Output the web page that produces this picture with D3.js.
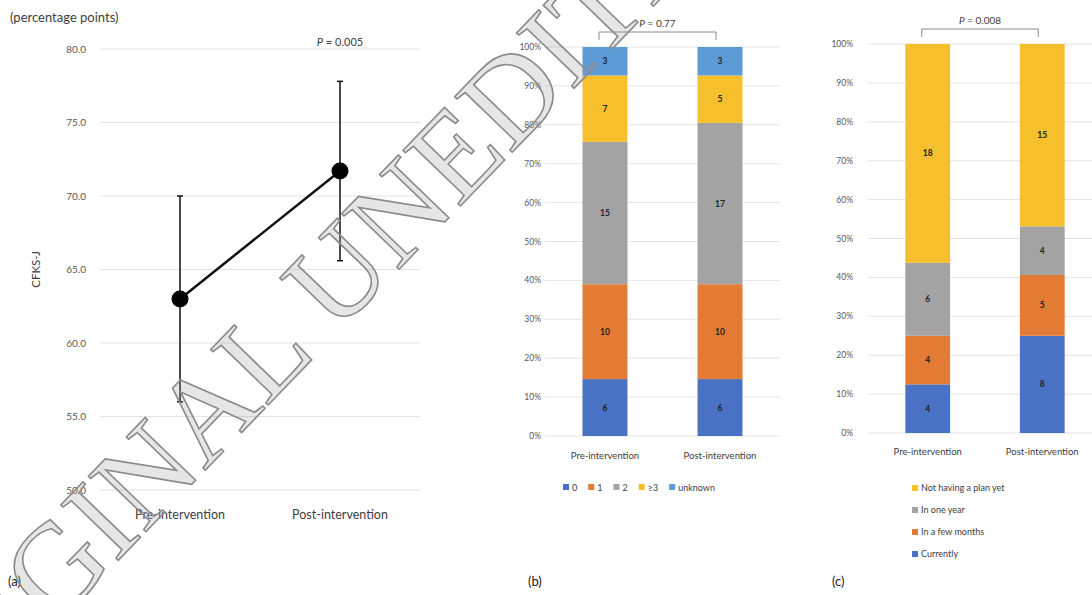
<!DOCTYPE html>
<html>
<head>
<meta charset="utf-8">
<script src="https://cdn.jsdelivr.net/npm/d3@7"></script>
<style>
  body { margin: 0; background: #fff; }
  svg { font-family: Lato, "Open Sans", sans-serif; display: block; }
</style>
</head>
<body>
<div id="chart"></div>
<script>
// datos
const groups = ["Pre-intervention", "Post-intervention"];

// (a) media y desviación de CFKS-J
const meanA = [63.0, 71.7];
const sdA = [7.0, 6.1];
const ticksA = [50, 55, 60, 65, 70, 75, 80];

// (b) categorías y conteos
const catsB = ["0", "1", "2", "≥3", "unknown"];
const preB = [6, 10, 15, 7, 3];
const postB = [6, 10, 17, 5, 3];

// (c) categorías y conteos
const catsC = ["Currently", "In a few months", "In one year", "Not having a plan yet"];
const preC = [4, 4, 6, 18];
const postC = [8, 5, 4, 15];

const pctTicks = [0, 0.1, 0.2, 0.3, 0.4, 0.5, 0.6, 0.7, 0.8, 0.9, 1];

const colB = ["#4a72c4", "#e47b34", "#a3a3a3", "#f6c02c", "#5c9bd6"];
const colC = ["#4a72c4", "#e47b34", "#a3a3a3", "#f6c02c"];

const W = 1092, H = 595;
const svg = d3.select("#chart").append("svg")
  .attr("width", W).attr("height", H);

const grid = "#e3e3e3", tickCol = "#595959";

// ---------- panel (a) ----------
const ya = d3.scaleLinear().domain([50, 80]).range([490, 49]);
const xa = d3.scalePoint().domain(groups).range([100, 420]).padding(0.5);

const ga = svg.append("g");
ga.selectAll(".grid").data(ticksA).enter().append("line")
  .attr("x1", 100).attr("x2", 420)
  .attr("y1", d => ya(d)).attr("y2", d => ya(d))
  .attr("stroke", grid).attr("stroke-width", 1);

ga.selectAll(".tick").data(ticksA).enter().append("text")
  .attr("x", 86).attr("y", d => ya(d) + 3.5)
  .attr("text-anchor", "end").attr("fill", tickCol)
  .style("font-size", "10px")
  .text(d => d.toFixed(1));

ga.selectAll(".cat").data(groups).enter().append("text")
  .attr("x", d => xa(d)).attr("y", 519)
  .attr("text-anchor", "middle").attr("fill", "#404040")
  .style("font-size", "12.5px")
  .text(d => d);

// barras de error
groups.forEach((g, i) => {
  const x = xa(g);
  ga.append("line")
    .attr("x1", x).attr("x2", x)
    .attr("y1", ya(meanA[i] - sdA[i])).attr("y2", ya(meanA[i] + sdA[i]))
    .attr("stroke", "#111").attr("stroke-width", 1.5);
  [meanA[i] - sdA[i], meanA[i] + sdA[i]].forEach(v => {
    ga.append("line")
      .attr("x1", x - 3).attr("x2", x + 3)
      .attr("y1", ya(v)).attr("y2", ya(v))
      .attr("stroke", "#111").attr("stroke-width", 1.5);
  });
});

ga.append("path")
  .datum(groups.map((g, i) => [xa(g), ya(meanA[i])]))
  .attr("d", d3.line())
  .attr("fill", "none").attr("stroke", "#111").attr("stroke-width", 2.5);

ga.selectAll(".pt").data(groups).enter().append("circle")
  .attr("cx", d => xa(d)).attr("cy", (d, i) => ya(meanA[i]))
  .attr("r", 8.5).attr("fill", "#000");

ga.append("text").attr("x", 10).attr("y", 22)
  .attr("fill", "#404040").style("font-size", "13px")
  .text("(percentage points)");

ga.append("text")
  .attr("transform", `translate(40,${ya(65)}) rotate(-90)`)
  .attr("text-anchor", "middle").attr("fill", "#404040")
  .style("font-size", "11.5px")
  .text("CFKS-J");

const pa = ga.append("text").attr("x", xa(groups[1])).attr("y", 46)
  .attr("text-anchor", "middle").attr("fill", "#404040")
  .style("font-size", "11px");
pa.append("tspan").style("font-style", "italic").text("P");
pa.append("tspan").text(" = 0.005");

// ---------- paneles apilados ----------
function stackedPanel(opts) {
  const { cats, pre, post, colors, x0, x1, yTop, yBot, labelX } = opts;
  const g = svg.append("g");
  const y = d3.scaleLinear().domain([0, 1]).range([yBot, yTop]);
  const x = d3.scaleBand().domain(groups).range([x0, x1])
    .paddingInner(0.609).paddingOuter(0.326);

  g.selectAll(".grid").data(pctTicks).enter().append("line")
    .attr("x1", x0).attr("x2", x1)
    .attr("y1", d => y(d)).attr("y2", d => y(d))
    .attr("stroke", grid).attr("stroke-width", 1);

  g.selectAll(".tick").data(pctTicks).enter().append("text")
    .attr("x", labelX).attr("y", d => y(d) + 3)
    .attr("text-anchor", "end").attr("fill", tickCol)
    .style("font-size", "8.5px")
    .text(d3.format(".0%"));

  const rows = groups.map((gr, gi) => {
    const vals = gi === 0 ? pre : post;
    const o = { group: gr };
    cats.forEach((c, ci) => o[c] = vals[ci]);
    return o;
  });
  const series = d3.stack().keys(cats).offset(d3.stackOffsetExpand)(rows);

  const layer = g.selectAll(".layer").data(series).enter().append("g")
    .attr("fill", (d, i) => colors[i]);

  layer.selectAll("rect").data(d => d).enter().append("rect")
    .attr("x", d => x(d.data.group))
    .attr("width", x.bandwidth())
    .attr("y", d => y(d[1]))
    .attr("height", d => y(d[0]) - y(d[1]));

  series.forEach(s => {
    s.forEach(d => {
      g.append("text")
        .attr("x", x(d.data.group) + x.bandwidth() / 2)
        .attr("y", (y(d[0]) + y(d[1])) / 2 + 3)
        .attr("text-anchor", "middle")
        .attr("fill", "#222")
        .style("font-size", "8.5px").style("font-weight", "bold")
        .text(d.data[s.key]);
    });
  });

  g.selectAll(".cat").data(groups).enter().append("text")
    .attr("x", d => x(d) + x.bandwidth() / 2).attr("y", opts.catY)
    .attr("text-anchor", "middle").attr("fill", "#404040")
    .style("font-size", "9.5px")
    .text(d => d);

  // corchete y valor P
  const bx0 = x(groups[0]) + x.bandwidth() / 2 - 6;
  const bx1 = x(groups[1]) + x.bandwidth() / 2 - 4;
  const by = opts.bracketY;
  g.append("path")
    .attr("d", `M${bx0},${by + 8}V${by}H${bx1}V${by + 8}`)
    .attr("fill", "none").attr("stroke", "#8c8c8c").attr("stroke-width", 1);
  const pt = g.append("text").attr("x", (bx0 + bx1) / 2).attr("y", by - 5)
    .attr("text-anchor", "middle").attr("fill", "#404040")
    .style("font-size", "10px");
  pt.append("tspan").style("font-style", "italic").text("P");
  pt.append("tspan").text(" = " + opts.p);

  return g;
}

const gb = stackedPanel({
  cats: catsB, pre: preB, post: postB, colors: colB,
  x0: 545, x1: 780, yTop: 47, yBot: 436, labelX: 541,
  catY: 459, bracketY: 32, p: "0.77"
});

// leyenda (b) horizontal
const legB = gb.append("g");
let lx = 563;
catsB.forEach((c, i) => {
  legB.append("rect").attr("x", lx).attr("y", 484).attr("width", 6).attr("height", 6)
    .attr("fill", colB[i]);
  const t = legB.append("text").attr("x", lx + 9).attr("y", 490.5)
    .attr("fill", "#404040").style("font-size", "9px").text(c);
  lx += t.node().getComputedTextLength() + 20;
});

const gc = stackedPanel({
  cats: catsC, pre: preC, post: postC, colors: colC,
  x0: 868, x1: 1102, yTop: 44, yBot: 433, labelX: 853,
  catY: 455, bracketY: 29, p: "0.008"
});

// leyenda (c) vertical, orden inverso
const legC = gc.append("g");
catsC.slice().reverse().forEach((c, i) => {
  const yy = 491 + i * 22;
  legC.append("rect").attr("x", 912).attr("y", yy - 6).attr("width", 6).attr("height", 6)
    .attr("fill", colC[catsC.length - 1 - i]);
  legC.append("text").attr("x", 921).attr("y", yy)
    .attr("fill", "#404040").style("font-size", "9px").text(c);
});

// etiquetas de panel
[["(a)", 8], ["(b)", 528], ["(c)", 832]].forEach(([t, x]) => {
  svg.append("text").attr("x", x).attr("y", 586)
    .attr("fill", "#222").style("font-size", "13px").text(t);
});

// marca de agua
svg.append("text")
  .attr("transform", "translate(-92,778) rotate(-46)")
  .attr("fill", "#9a9a9a").attr("fill-opacity", 0.25)
  .attr("stroke", "#8a8a8a").attr("stroke-width", 1.6)
  .style("font-family", "'Liberation Serif', 'DejaVu Serif', serif")
  .style("font-size", "122px")
  .text("ORIGINAL UNEDITED MANUSCRIPT");
</script>
</body>
</html>
